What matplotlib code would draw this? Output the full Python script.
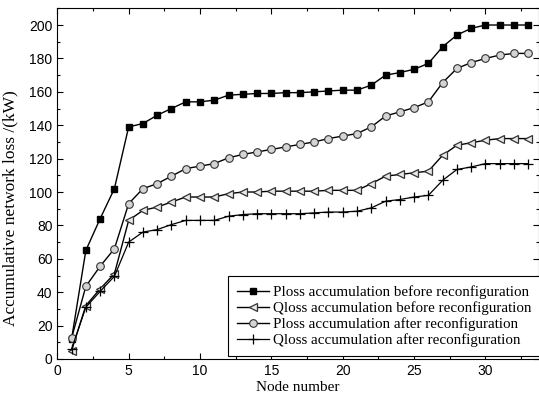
import numpy as np
import matplotlib
matplotlib.use("Agg")
import matplotlib.pyplot as plt
from matplotlib.ticker import MultipleLocator

# node numbers 1..33
nodes = list(range(1, 34))

# cumulative losses (kW)
ploss_before = [12, 65, 84, 102, 139, 141, 146, 150, 154, 154, 155, 158, 158.5, 159, 159, 159.5,
                159.5, 160, 160.5, 161, 161, 164, 170, 171.5, 173.5, 177, 187, 194, 198, 200, 200, 200, 200]
qloss_before = [5, 32, 42, 51, 83, 89, 91, 94, 97, 97, 97, 99, 100, 100, 100.5, 100.5,
                100.5, 100.5, 101, 101, 101, 105, 109.5, 110.5, 111.5, 112.5, 122, 128, 129.5, 131, 132, 132, 132]
ploss_after = [12.5, 43.5, 55.5, 66, 93, 102, 105, 109.5, 114, 115.5, 117, 120.5, 122.5, 124, 125.5, 127,
               128.5, 130, 132, 133.5, 135, 139, 145.5, 148, 150.5, 154, 165.5, 174, 177.5, 180, 182, 183, 183]
qloss_after = [6, 31, 40.5, 49.5, 70, 76, 77.5, 80.5, 83, 83, 83, 85.5, 86.5, 87, 87, 87,
               87, 87.5, 88, 88, 88.5, 90.5, 94.5, 95.5, 97, 98, 107, 113.5, 115, 117, 117, 117, 117]

labels = ["Ploss accumulation before reconfiguration",
          "Qloss accumulation before reconfiguration",
          "Ploss accumulation after reconfiguration",
          "Qloss accumulation after reconfiguration"]

serif = ["Liberation Serif", "DejaVu Serif"]
plt.rcParams['font.family'] = ["Liberation Sans", "DejaVu Sans"]

fig = plt.figure(figsize=(5.39, 4.0), dpi=100)
ax = fig.add_axes([0.1063, 0.1025, 0.8937, 0.8767])

ax.plot(nodes, ploss_before, '-s', color='black', lw=1, ms=5, mfc='black', mec='black', label=labels[0])
ax.plot(nodes, qloss_before, '-<', color='black', lw=1, ms=5.5, mfc='#e8e8e8', mec='#333333', mew=0.9, label=labels[1])
ax.plot(nodes, ploss_after, '-o', color='black', lw=1, ms=5.5, mfc='#d4d4d4', mec='#333333', mew=0.8, label=labels[2])
ax.plot(nodes, qloss_after, '-+', color='black', lw=0.9, ms=7, mew=0.9, label=labels[3])

ax.set_xlim(0, 33.75)
ax.set_ylim(0, 210)
ax.xaxis.set_major_locator(MultipleLocator(5))
ax.xaxis.set_minor_locator(MultipleLocator(2.5))
ax.yaxis.set_major_locator(MultipleLocator(20))
ax.yaxis.set_minor_locator(MultipleLocator(10))
ax.tick_params(which='both', direction='in', top=True, right=True, labelsize=10)
ax.tick_params(which='major', length=4, width=0.8)
ax.tick_params(which='minor', length=2, width=0.8)

ax.set_xlabel("Node number", fontsize=11, family=serif, labelpad=2)
ax.set_ylabel("Accumulative network loss /(kW)", fontsize=12.5, family=serif, labelpad=4)
ax.yaxis.set_label_coords(-0.08, 0.43)

leg = ax.legend(loc='lower right', bbox_to_anchor=(1.003, 0.008), borderaxespad=0,
                prop={'family': serif, 'size': 10.8}, fancybox=False, framealpha=1,
                edgecolor='black', handlelength=2.15, handletextpad=0.25, labelspacing=0.15,
                borderpad=0.6)
leg.get_frame().set_linewidth(0.8)

fig.savefig("out.png", dpi=100)
